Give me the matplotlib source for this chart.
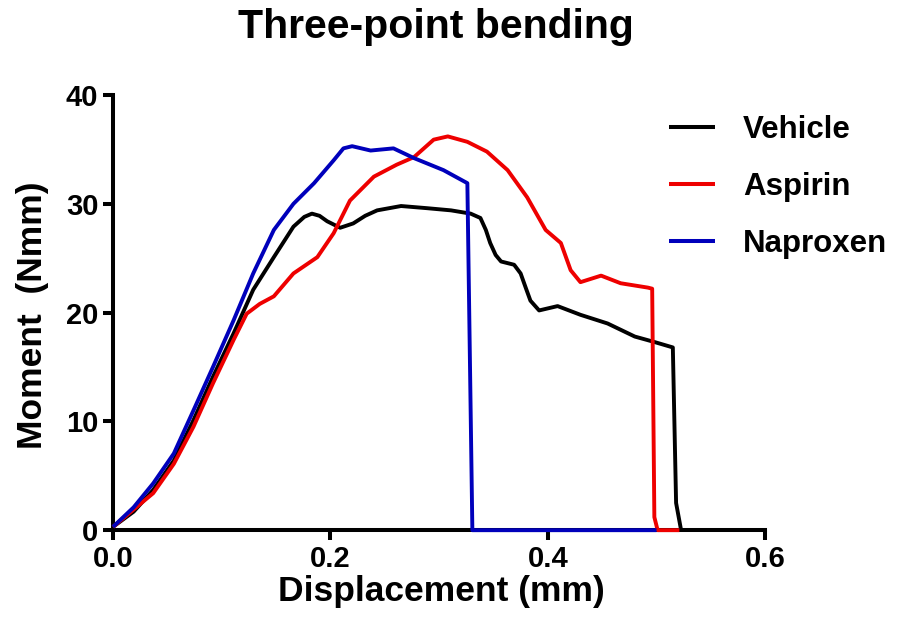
import matplotlib
matplotlib.use("Agg")
import matplotlib.pyplot as plt

plt.rcParams['font.family'] = ['Liberation Sans', 'DejaVu Sans']
plt.rcParams['font.weight'] = 'bold'

vehicle_x = [0.0, 0.019, 0.037, 0.056, 0.074, 0.092, 0.111, 0.129, 0.148, 0.166, 0.176, 0.183, 0.190, 0.197, 0.209,
             0.221, 0.232, 0.243, 0.265, 0.289, 0.311, 0.329, 0.338, 0.343, 0.347, 0.352, 0.357, 0.369, 0.375, 0.380,
             0.384, 0.392, 0.409, 0.430, 0.455, 0.480, 0.498, 0.515, 0.518, 0.5226]
vehicle_y = [0.3, 1.7, 3.7, 6.4, 10.1, 14.1, 18.1, 22.1, 25.1, 27.9, 28.8, 29.1, 28.9, 28.4, 27.8,
             28.2, 28.9, 29.4, 29.8, 29.6, 29.4, 29.1, 28.7, 27.6, 26.4, 25.3, 24.7, 24.4, 23.6, 22.2,
             21.1, 20.2, 20.6, 19.8, 19.0, 17.8, 17.3, 16.8, 2.5, 0.0]

aspirin_x = [0.0, 0.019, 0.037, 0.056, 0.074, 0.092, 0.111, 0.123, 0.135, 0.148, 0.166, 0.188, 0.203,
             0.218, 0.240, 0.261, 0.277, 0.295, 0.308, 0.326, 0.344, 0.363, 0.381, 0.398, 0.412,
             0.421, 0.430, 0.449, 0.467, 0.492, 0.496, 0.498, 0.501, 0.521]
aspirin_y = [0.3, 1.9, 3.4, 6.1, 9.5, 13.5, 17.5, 19.9, 20.8, 21.5, 23.6, 25.1, 27.3,
             30.3, 32.5, 33.6, 34.3, 35.9, 36.2, 35.7, 34.8, 33.1, 30.6, 27.6, 26.4,
             23.9, 22.8, 23.4, 22.7, 22.3, 22.2, 1.2, 0.0, 0.0]

naproxen_x = [0.0, 0.019, 0.037, 0.056, 0.074, 0.092, 0.111, 0.129, 0.148, 0.166, 0.185, 0.203,
              0.212, 0.220, 0.237, 0.258, 0.277, 0.304, 0.326, 0.3306, 0.50]
naproxen_y = [0.3, 2.1, 4.3, 7.05, 11.0, 15.0, 19.3, 23.6, 27.6, 30.0, 31.9, 34.0,
              35.1, 35.3, 34.9, 35.1, 34.2, 33.1, 31.9, 0.0, 0.0]

series = [("Vehicle", vehicle_x, vehicle_y, "#000000"),
          ("Aspirin", aspirin_x, aspirin_y, "#ee0000"),
          ("Naproxen", naproxen_x, naproxen_y, "#0000bb")]

x_ticks = [0.0, 0.2, 0.4, 0.6]
y_ticks = [0, 10, 20, 30, 40]

fig = plt.figure(figsize=(9.11, 6.38), dpi=100)
ax = fig.add_axes([0.124, 0.169, 0.716, 0.682])

for name, xs, ys, c in series:
    ax.plot(xs, ys, color=c, lw=2.8, label=name, solid_joinstyle='round',
            solid_capstyle='butt', clip_on=False, zorder=3)

ax.set_xlim(0, 0.6)
ax.set_ylim(0, 40)
ax.set_xticks(x_ticks)
ax.set_xticklabels([f"{v:.1f}" for v in x_ticks])
ax.set_yticks(y_ticks)
ax.set_yticklabels([str(v) for v in y_ticks])
for s in ['top', 'right']:
    ax.spines[s].set_visible(False)
for s in ['left', 'bottom']:
    ax.spines[s].set_linewidth(2.9)
ax.tick_params(width=2.9, length=7.5, labelsize=21, pad=3)
for lab in ax.get_xticklabels() + ax.get_yticklabels():
    lab.set_fontweight('bold')

fig.text(0.4846, 1 - 592 / 638, "Displacement (mm)", ha='center', va='center',
         fontsize=25.5, fontweight='bold')
fig.text(33 / 911, 1 - 315 / 638, "Moment  (Nmm)", ha='center', va='center', rotation=90,
         fontsize=25.5, fontweight='bold')
fig.text(0.479, 1 - 38 / 638, "Three-point bending", ha='center', va='baseline',
         fontsize=29.5, fontweight='bold')

leg = ax.legend(loc='upper left', bbox_to_anchor=(0.834, 0.982), frameon=False,
                prop={'size': 22.5, 'weight': 'bold'}, handlelength=1.45, handletextpad=0.9,
                labelspacing=0.85, borderaxespad=0)
for h in leg.get_lines():
    h.set_linewidth(2.9)

fig.savefig("out.png", dpi=100)
